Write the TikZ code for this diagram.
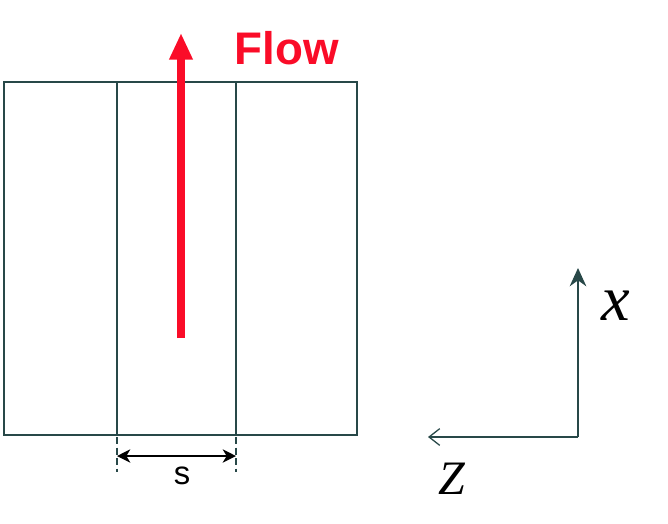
\documentclass[tikz,border=0pt]{standalone}
\usepackage{fontspec}
\setmainfont{Liberation Serif}
\setsansfont{Liberation Sans}
\usetikzlibrary{arrows.meta}
\usepackage{xcolor}
\definecolor{edgegray}{RGB}{40,72,72}
\definecolor{flowred}{RGB}{250,12,40}

\begin{document}
\begin{tikzpicture}[x=0.03cm,y=-0.03cm]
\tikzset{dimtip/.style={{Stealth[length=4mm,width=4mm,inset=1.2mm]}-{Stealth[length=4mm,width=4mm,inset=1.2mm]}}}
\useasboundingbox (0,0) rectangle (668,523);
\draw[edgegray,line width=0.9pt] (4,82) rectangle (357,435);
\draw[edgegray,line width=0.9pt] (117,82) -- (117,435) (236,82) -- (236,435);
\coordinate (flowtail) at (181,338);
\coordinate (flowtip) at (181,33);
\draw[flowred,line width=6.8pt,-{Triangle[length=8mm,width=6.6mm]}] (flowtail) -- (flowtip);
\node[flowred,font=\sffamily\bfseries\fontsize{39}{39}\selectfont] (flow) at (287,48) {Flow};
\coordinate (sL) at (117,456);
\coordinate (sR) at (236,456);
\draw[edgegray,line width=0.9pt,dash pattern=on 6pt off 3pt] (117,437) -- (117,472) (236,437) -- (236,472);
\draw[dimtip,line width=1.2pt] (sL) -- (sR);
\node[font=\sffamily\fontsize{28}{28}\selectfont] (s) at (182,476) {s};
\coordinate (O) at (578,437);
\coordinate (xend) at (578,268);
\coordinate (zend) at (428,437);
\draw[edgegray,line width=1.1pt,-{Stealth[length=5.5mm,width=5mm,inset=1.8mm]}] (O) -- (xend);
\draw[edgegray,line width=1.1pt,-{Straight Barb[length=3.2mm,width=5mm]}] (O) -- (zend);
\node[font=\itshape\fontsize{55}{55}\selectfont] (xlab) at (616,306) {x};
\node[font=\itshape\fontsize{41}{41}\selectfont] (zlab) at (452,479) {Z};
\end{tikzpicture}
\end{document}
